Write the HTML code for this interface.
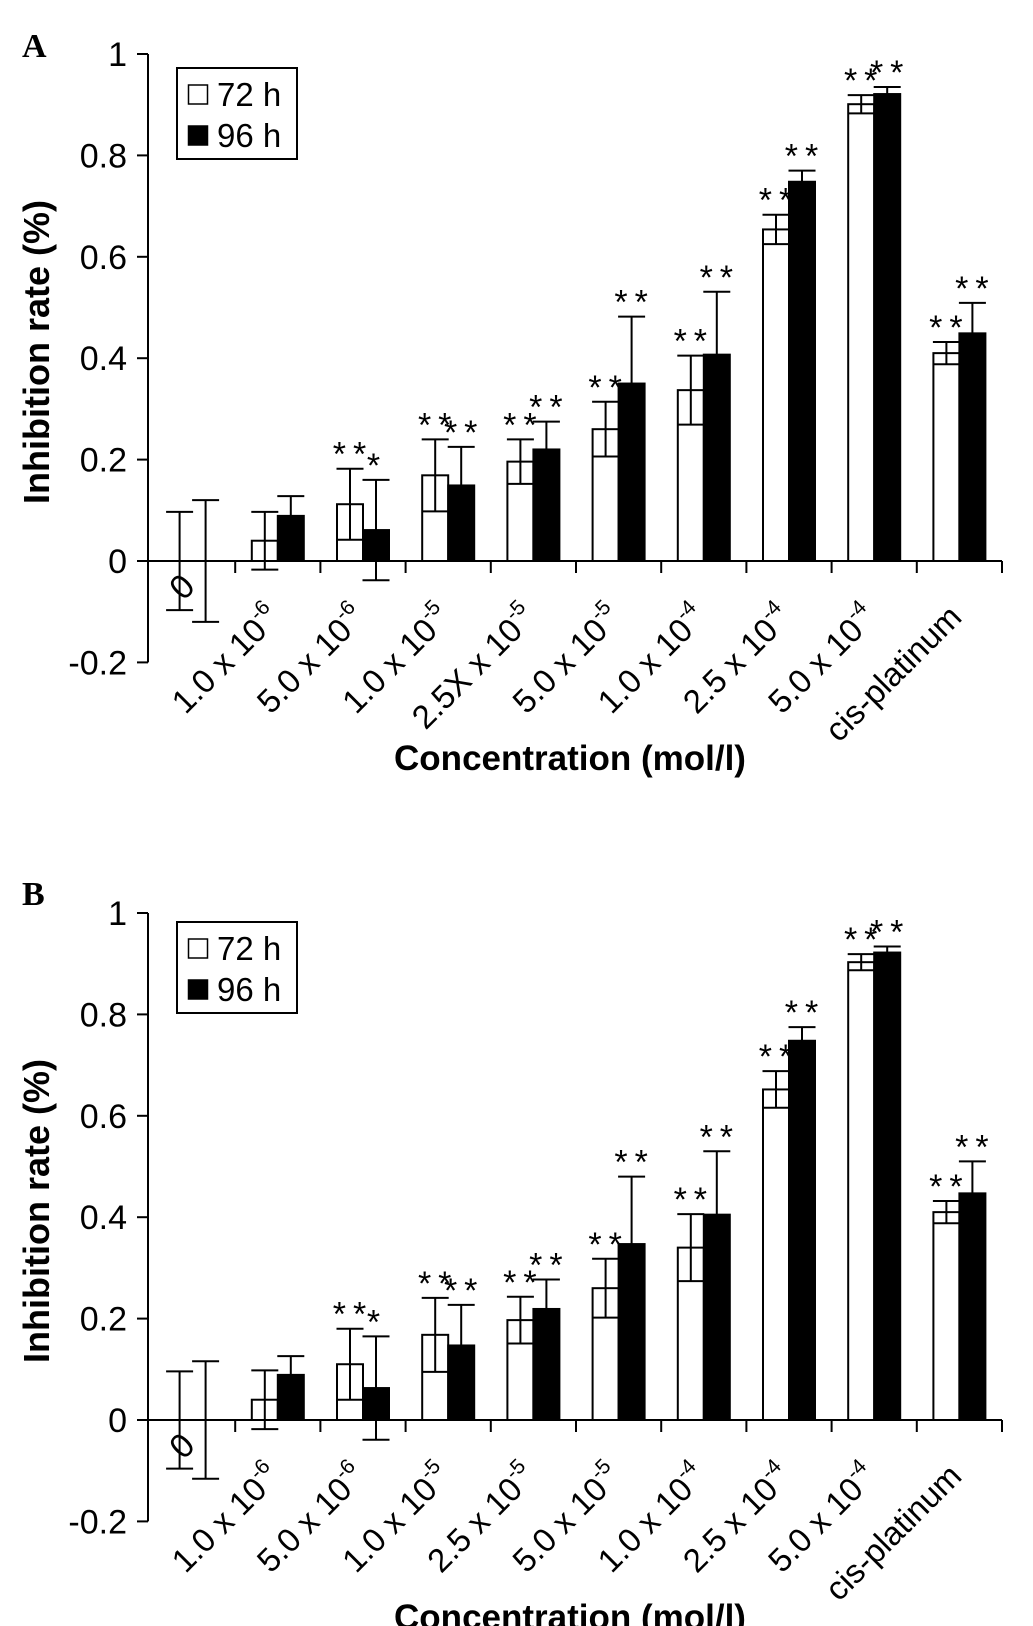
<!DOCTYPE html>
<html><head><meta charset="utf-8"><style>
html,body{margin:0;padding:0;background:#fff;}
svg{display:block;}
text{font-family:"Liberation Sans",Arial,sans-serif;fill:#000;}
</style></head><body>
<svg id="fig" width="1033" height="1626" viewBox="0 0 1033 1626" xmlns="http://www.w3.org/2000/svg"></svg>
<script>
const categoriesA = ["0","1.0 x 10|-6","5.0 x 10|-6","1.0 x 10|-5","2.5X x 10|-5","5.0 x 10|-5","1.0 x 10|-4","2.5 x 10|-4","5.0 x 10|-4","cis-platinum"];
const categoriesB = ["0","1.0 x 10|-6","5.0 x 10|-6","1.0 x 10|-5","2.5 x 10|-5","5.0 x 10|-5","1.0 x 10|-4","2.5 x 10|-4","5.0 x 10|-4","cis-platinum"];
const yTicks = [-0.2, 0, 0.2, 0.4, 0.6, 0.8, 1];
const yTickLabels = ["-0.2","0","0.2","0.4","0.6","0.8","1"];
const a72 = [0, 0.04, 0.112, 0.169, 0.196, 0.26, 0.337, 0.654, 0.901, 0.41];
const a72err = [0.097, 0.057, 0.07, 0.071, 0.044, 0.054, 0.068, 0.029, 0.018, 0.022];
const a96 = [0, 0.089, 0.061, 0.149, 0.22, 0.35, 0.407, 0.748, 0.921, 0.449];
const a96err = [0.12, 0.039, 0.099, 0.076, 0.055, 0.132, 0.124, 0.022, 0.014, 0.06];
const aStars72 = ["","","**","**","**","**","**","**","**","**"];
const aStars96 = ["","","*","**","**","**","**","**","**","**"];
const b72 = [0, 0.04, 0.11, 0.168, 0.197, 0.26, 0.34, 0.652, 0.903, 0.41];
const b72err = [0.096, 0.058, 0.07, 0.073, 0.046, 0.058, 0.066, 0.036, 0.016, 0.022];
const b96 = [0, 0.089, 0.063, 0.147, 0.219, 0.347, 0.405, 0.748, 0.922, 0.447];
const b96err = [0.116, 0.037, 0.102, 0.08, 0.058, 0.133, 0.125, 0.027, 0.012, 0.063];
const bStars72 = aStars72;
const bStars96 = aStars96;

const NS = "http://www.w3.org/2000/svg";
const svg = document.getElementById("fig");
function mk(tag, attrs, parent){ const e=document.createElementNS(NS,tag); for(const k in attrs) e.setAttribute(k,attrs[k]); (parent||svg).appendChild(e); return e; }

function panel(letter, off, cats, v72, e72, v96, e96, s72, s96){
  const g = mk("g",{});
  
  
  const y = v => off + 561 - v*507;
  const axX = 148, x0 = 150, cw = 85.2, bw = 26;
  const cx = i => x0 + cw*(i+0.5);
  const L = mk("text",{x:22,y:off+(letter==="A"?57:46),"font-size":34,"font-weight":"bold",style:"font-family:'Liberation Serif',serif"},g);
  L.textContent = letter;
  
  
  const ya = mk("line",{x1:axX,y1:y(1),x2:axX,y2:y(-0.2),stroke:"#000","stroke-width":2},g);
  
  
  yTicks.forEach((t,i)=>{
    mk("line",{x1:axX-11,y1:y(t),x2:axX,y2:y(t),stroke:"#000","stroke-width":2},g);
    const tl = mk("text",{x:127,y:y(t)+12,"font-size":34,"text-anchor":"end"},g);
    tl.textContent = yTickLabels[i];
    
    
  });
  const yt = mk("text",{x:0,y:0,"font-size":36,"font-weight":"bold","text-anchor":"middle",transform:`translate(49,${off+352}) rotate(-90)`},g);
  yt.textContent = "Inhibition rate (%)";
  
  
  cats.forEach((c,i)=>{
    const c0 = cx(i);
    [[v72,e72,s72,"#fff","72h"],[v96,e96,s96,"#000","96h"]].forEach(([v,e,s,fill,nm],k)=>{
      const bx = c0 - bw + k*bw, bc = bx + bw/2;
      if(v[i] > 0){
        const r = mk("rect",{x:bx,y:y(v[i]),width:bw,height:y(0)-y(v[i]),fill:fill,stroke:"#000","stroke-width":2},g);
        
        
      }
      const top = y(v[i]+e[i]), bot = y(v[i]-e[i]);
      const eb = mk("path",{d:`M${bc},${top}V${bot}M${bc-13.5},${top}H${bc+13.5}M${bc-13.5},${bot}H${bc+13.5}`,stroke:"#000","stroke-width":2,fill:"none"},g);
      
      
      if(s[i]){
        const st = mk("text",{x:bc+(s[i]==="*"?1:3),y:top-3,"font-size":34,"text-anchor":"middle","letter-spacing":"7"},g);
        st.textContent = s[i];
        
        
      }
    });
    mk("line",{x1:x0+cw*(i+1),y1:y(0),x2:x0+cw*(i+1),y2:y(0)+12,stroke:"#000","stroke-width":2},g);
    const parts = c.split("|");
    let lt;
    if(i===0){
      lt = mk("text",{x:0,y:0,"font-size":34,"text-anchor":"middle",transform:`translate(190,${y(0)+34}) rotate(-45)`},g);
      lt.textContent = "0";
    } else {
      lt = mk("text",{x:0,y:0,"font-size":33,"text-anchor":"end",transform:`translate(${c0+4},${y(0)+58}) rotate(-45)`},g);
      lt.textContent = parts[0];
      if(parts[1]){ const sp = mk("tspan",{"font-size":21,dy:-15},lt); sp.textContent = parts[1]; }
    }
    
    
  });
  const xa = mk("line",{x1:axX-11,y1:y(0),x2:x0+cw*10,y2:y(0),stroke:"#000","stroke-width":2},g);
  
  
  const xt = mk("text",{x:570,y:off+770,"font-size":35,"font-weight":"bold","text-anchor":"middle"},g);
  xt.textContent = "Concentration (mol/l)";
  
  
  const lo = off + (letter==="A"?0:-5);
  const lg = mk("g",{},g);
  
  
  mk("rect",{x:177,y:lo+68,width:120,height:91,fill:"#fff",stroke:"#000","stroke-width":2},lg);
  const e1 = mk("rect",{x:188.5,y:lo+85,width:19,height:19,fill:"#fff",stroke:"#000","stroke-width":1.5},lg);
  
  
  const e2 = mk("rect",{x:188.5,y:lo+126,width:19,height:19,fill:"#000",stroke:"#000","stroke-width":1.5},lg);
  
  
  const t1 = mk("text",{x:217,y:lo+106,"font-size":33},lg); t1.textContent="72 h";
  
  
  const t2 = mk("text",{x:217,y:lo+147,"font-size":33},lg); t2.textContent="96 h";
  
  
}
panel("A", 0, categoriesA, a72, a72err, a96, a96err, aStars72, aStars96);
panel("B", 859, categoriesB, b72, b72err, b96, b96err, bStars72, bStars96);
</script>
</body></html>
